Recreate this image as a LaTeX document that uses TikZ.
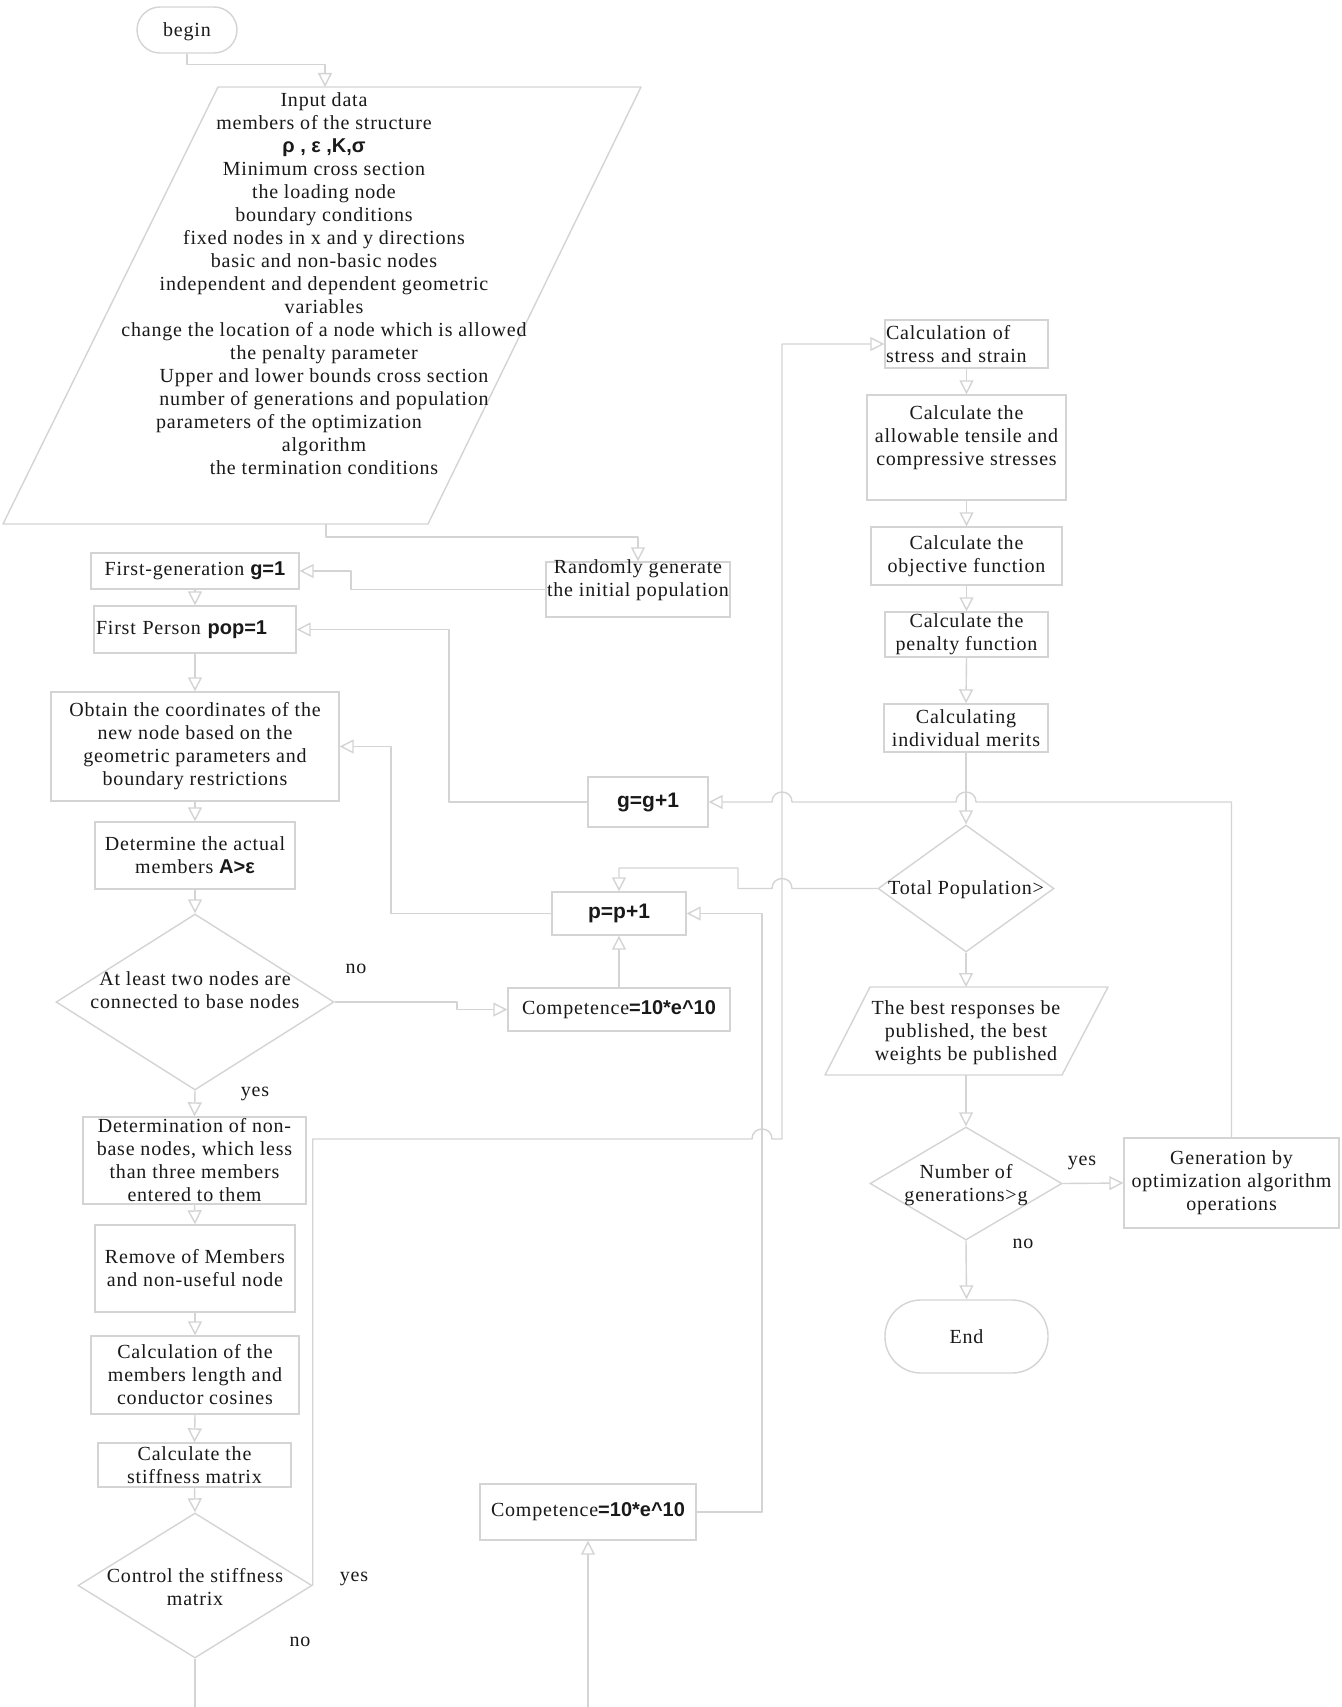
\documentclass[tikz,border=0pt]{standalone}
\usepackage{fontspec}
\setmainfont{Liberation Serif}[LetterSpace=4]
\newfontfamily\sansB{Liberation Sans}
\usetikzlibrary{arrows.meta,shapes.geometric}
\definecolor{lc}{RGB}{212,212,212}
\definecolor{tc}{RGB}{25,25,25}
\newcommand\bs[1]{{\sansB\bfseries #1}}
\tikzset{
 ln/.style={draw=lc, line width=1.4pt, line join=round},
 ar/.style={ln, -{Triangle[open, length=14pt, width=14pt]}},
 box/.style={draw=lc, line width=1.4pt, rectangle, inner sep=0pt, align=center, text=tc, font=\fontsize{20}{23}\selectfont},
 dbox/.style={diamond, draw=lc, line width=1.4pt, inner sep=0pt},
 txt/.style={inner sep=0pt, align=center, text=tc, font=\fontsize{20}{23}\selectfont},
}
\begin{document}
\begin{tikzpicture}[x=1pt,y=-1pt]
\fill[white] (0,0) rectangle (1341,1707);
\useasboundingbox (0,0) rectangle (1341,1707);

% ---------- left column ----------
\node[box, rounded corners=23pt, minimum width=100pt, minimum height=46pt, text depth=0pt] (begin) at (187,30) {begin};
\draw[ln] (218,87) -- (641,87) -- (428,524) -- (3,524) -- cycle;
\coordinate (inTop) at (325,87);
\coordinate (inBot) at (326,524);
\node[txt] (input) at (324,284) {Input data\\members of the structure\\\bs{ρ , ε ,K,σ}\\Minimum cross section\\the loading node\\boundary conditions\\fixed nodes in x and y directions\\basic and non-basic nodes\\independent and dependent geometric\\variables\\change the location of a node which is allowed\\the penalty parameter\\Upper and lower bounds cross section\\number of generations and population\\parameters of the optimization\rule{70pt}{0pt}\\algorithm\\the termination conditions};

\node[box, minimum width=184pt, minimum height=55pt] (rand) at (638,589.5) {};
\node[txt] (randt) at (638,580) {Randomly generate\\the initial population};
\node[box, minimum width=208pt, minimum height=36pt] (fg) at (195,571) {First-generation \bs{g=1}};
\node[box, minimum width=202pt, minimum height=47pt, text width=198pt, align=left] (fp) at (195,629.5) {First Person \bs{pop=1}};
\node[box, minimum width=288pt, minimum height=109pt] (obt) at (195,746.5) {Obtain the coordinates of the\\new node based on the\\geometric parameters and\\boundary restrictions};
\node[box, minimum width=200pt, minimum height=67pt] (det) at (195,855.5) {Determine the actual\\members \bs{A>ε}};
\node[dbox, minimum width=278pt, minimum height=176pt] (d1) at (195,1002) {};
\node[txt] (d1t) at (195,990) {At least two nodes are\\connected to base nodes};
\node[box, minimum width=223pt, minimum height=87pt] (det2) at (194.5,1160.5) {Determination of non-\\base nodes, which less\\than three members\\entered to them};
\node[box, minimum width=200pt, minimum height=87pt] (rem) at (195,1268.5) {Remove of Members\\and non-useful node};
\node[box, minimum width=208pt, minimum height=78pt] (cm) at (195,1375) {Calculation of the\\members length and\\conductor cosines};
\node[box, minimum width=193pt, minimum height=44pt] (stf) at (194.5,1465) {Calculate the\\stiffness matrix};
\node[dbox, minimum width=234pt, minimum height=145pt] (d2) at (195,1585.5) {};
\node[txt] (d2t) at (195,1587) {Control the stiffness\\matrix};

% ---------- middle ----------
\node[box, minimum width=222pt, minimum height=43pt] (comp1) at (619,1009.5) {Competence\bs{=10*e\textasciicircum 10}};
\node[box, minimum width=134pt, minimum height=43pt] (pp) at (619,913.5) {\fontsize{21}{23}\selectfont\bs{p=p+1}};
\node[box, minimum width=120pt, minimum height=50pt] (gg) at (648,802) {\fontsize{21}{23}\selectfont\bs{g=g+1}};
\node[box, minimum width=216pt, minimum height=56pt] (comp2) at (588,1512) {Competence\bs{=10*e\textasciicircum 10}};
\coordinate (botR) at (588,1707);

% ---------- right column ----------
\node[box, minimum width=163pt, minimum height=48pt, text width=161pt, align=left] (cs) at (966.5,344) {Calculation of\\stress and strain};
\node[box, minimum width=199pt, minimum height=105pt] (ca) at (966.5,447.5) {};
\node[txt] (cat) at (966.5,438) {Calculate the\\allowable tensile and\\compressive stresses};
\node[box, minimum width=191pt, minimum height=58pt] (co) at (966.5,556) {Calculate the\\objective function};
\node[box, minimum width=163pt, minimum height=45pt] (cp) at (966.5,634.5) {Calculate the\\penalty function};
\node[box, minimum width=164pt, minimum height=48pt] (cmer) at (966,728) {Calculating\\individual merits};
\node[dbox, minimum width=176pt, minimum height=127pt] (tp) at (966,888.5) {};
\node[txt] (tpt) at (966,890) {Total Population>};
\draw[ln] (870,987) -- (1108,987) -- (1062,1075) -- (825,1075) -- cycle;
\coordinate (bestTop) at (966,987);
\coordinate (bestBot) at (966,1075);
\node[txt] (bestt) at (966,1033) {The best responses be\\published, the best\\weights be published};
\node[dbox, minimum width=192pt, minimum height=113pt] (d3) at (966,1183.5) {};
\node[txt] (d3t) at (966,1185) {Number of\\generations>g};
\node[box, minimum width=215pt, minimum height=90pt] (gen) at (1231.5,1183) {Generation by\\optimization algorithm\\operations};
\node[box, rounded corners=36pt, minimum width=163pt, minimum height=73pt] (end) at (966.5,1336.5) {End};

% ---------- labels ----------
\node[txt] (l1) at (356,969) {no};
\node[txt] (l2) at (255,1094) {yes};
\node[txt] (l3) at (354,1579) {yes};
\node[txt] (l4) at (300,1642) {no};
\node[txt] (l5) at (1082,1163) {yes};
\node[txt] (l6) at (1023,1244) {no};

% ---------- connectors ----------
\draw[ar] (begin.south) -- ++(0,11) -| (inTop);
\draw[ar] (inBot) -- ++(0,13) -| (rand.north);
\draw[ar] (rand.west) -- (351,589.5) |- (fg.east);
\draw[ar] (fg.south) -- (fp.north);
\draw[ar] (fp.south) -- (obt.north);
\draw[ar] (obt.south) -- (det.north);
\draw[ar] (det.south) -- (d1.north);
\draw[ar] (d1.east) -- (457,1002) |- (comp1.west);
\draw[ar] (d1.south) -- (det2.north);
\draw[ar] (det2.south) -- (rem.north);
\draw[ar] (rem.south) -- (cm.north);
\draw[ar] (cm.south) -- (stf.north);
\draw[ar] (stf.south) -- (d2.north);
\draw[ln] (d2.south) -- (d2.south |- 0,1707);
\draw[ar] (botR) -- (comp2.south);
\draw[ar] (comp1.north) -- (pp.south);
\draw[ar] (pp.west) -- (391,913.5) |- (obt.east);
\draw[ar] (gg.west) -- (449,802) |- (fp.east);
\draw[ar] (d2.east) -- (d2.east |- 0,1139) -- (752,1139) .. controls (752,1125.7) and (772,1125.7) .. (772,1139) -- (782,1139) -- (782,344) -- (cs.west);
\draw[ar] (comp2.east) -- (762,1512) |- (pp.east);
\draw[ar] (cs.south) -- (ca.north);
\draw[ar] (ca.south) -- (co.north);
\draw[ar] (co.south) -- (cp.north);
\draw[ar] (cp.south) -- (cmer.north);
\draw[ar] (cmer.south) -- (tp.north);
\draw[ar] (gen.north) -- (1231.5,802) -- (976,802) .. controls (976,788.7) and (956,788.7) .. (956,802) -- (792,802) .. controls (792,788.7) and (772,788.7) .. (772,802) -- (gg.east);
\draw[ar] (tp.west) -- (792,888.5) .. controls (792,875.2) and (772,875.2) .. (772,888.5) -- (738,888.5) -- (738,868) -| (pp.north);
\draw[ar] (tp.south) -- (bestTop);
\draw[ar] (bestBot) -- (d3.north);
\draw[ar] (d3.east) -- (gen.west);
\draw[ar] (d3.south) -- (end.north);
\end{tikzpicture}
\end{document}
